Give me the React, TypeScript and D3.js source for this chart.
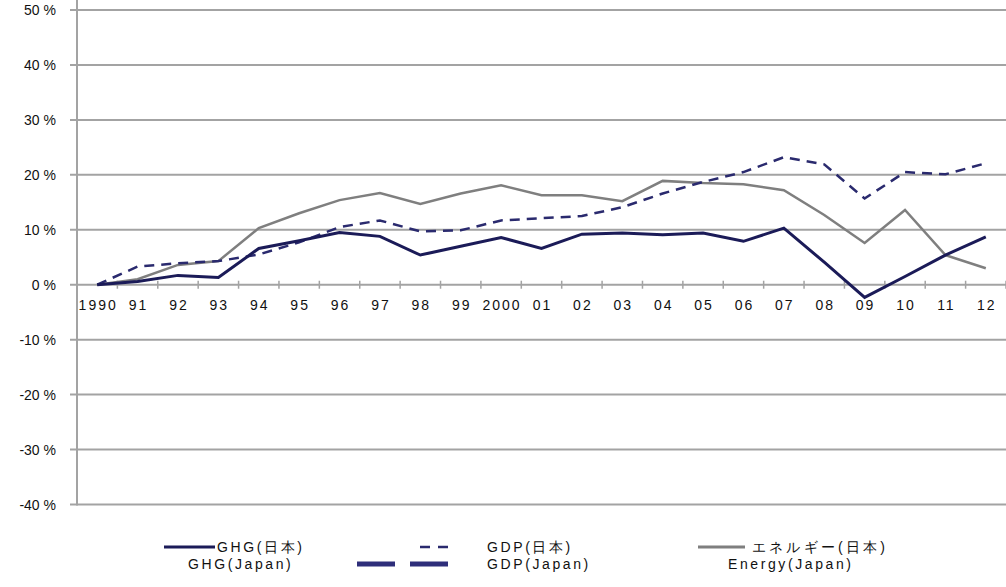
import React from "react";
import * as d3 from "d3";

const years = ["1990","91","92","93","94","95","96","97","98","99","2000","01","02","03","04","05","06","07","08","09","10","11","12"];
const ghg = [0,0.6,1.7,1.3,6.6,8.0,9.5,8.8,5.4,7.0,8.6,6.6,9.2,9.4,9.1,9.4,7.9,10.3,4.1,-2.3,1.5,5.4,8.7];
const gdp = [0,3.3,3.9,4.3,5.5,7.7,10.5,11.7,9.7,9.9,11.7,12.1,12.5,14.1,16.6,18.7,20.5,23.2,21.9,15.7,20.5,20.1,22.1];
const energy = [0,1.0,3.6,4.3,10.3,13.0,15.4,16.7,14.7,16.6,18.1,16.3,16.3,15.2,18.9,18.5,18.3,17.2,12.7,7.6,13.6,5.4,3.0];
const yTicks = [50,40,30,20,10,0,-10,-20,-30,-40];

const W = 1006, H = 587;
const font = "'Liberation Sans', Arial, sans-serif";

export default function App() {
  const x = d3.scaleBand<string>().domain(years).range([77, 1006]);
  const y = d3.scaleLinear().domain([-40, 50]).range([504.5, 10]);
  const cx = (d: string) => (x(d) as number) + x.bandwidth() / 2;
  const line = (vals: number[]) =>
    d3.line<number>().x((_, i) => cx(years[i])).y((v) => y(v))(vals) as string;
  const grid = "#a3a3a3";
  const bounds = years.map((d) => x(d) as number).concat([1006]);
  const txt = { fontFamily: font, fill: "#111" };
  const leg = { ...txt, fontSize: 14, letterSpacing: 2.6 };

  return (
    <svg width={W} height={H} style={{ position: "absolute", left: 0, top: 0, background: "#fff" }}>
      {yTicks.map((t) => (
        <g key={t}>
          <line x1={70} x2={1006} y1={y(t)} y2={y(t)} stroke={grid} strokeWidth={2} />
          <text x={56} y={y(t) + 5.2} textAnchor="end" fontSize={14} {...txt}>
            {t} %
          </text>
        </g>
      ))}
      <line x1={77} x2={77} y1={0} y2={505.5} stroke={grid} strokeWidth={2} />
      {bounds.map((b, i) => (
        <line key={i} x1={b} x2={b} y1={y(0) - 4} y2={y(0) + 4} stroke={grid} strokeWidth={1.5} />
      ))}
      {years.map((d) => (
        <text key={d} x={cx(d) + 1} y={310} textAnchor="middle" fontSize={14} letterSpacing={2} {...txt}>
          {d}
        </text>
      ))}
      <path d={line(energy)} fill="none" stroke="#7f7f7f" strokeWidth={2.5} />
      <path d={line(gdp)} fill="none" stroke="#2a2a6e" strokeWidth={2.5} strokeDasharray="10,7" />
      <path d={line(ghg)} fill="none" stroke="#1b1b58" strokeWidth={3} />

      {/* legend */}
      <line x1={164} x2={215} y1={547} y2={547} stroke="#1b1b58" strokeWidth={3} />
      <text x={217} y={552} {...leg}>GHG(日本)</text>
      <text x={188} y={569} {...leg}>GHG(Japan)</text>

      <line x1={420} x2={450} y1={547} y2={547} stroke="#2a2a6e" strokeWidth={2.5} strokeDasharray="10,8" />
      <text x={487} y={552} {...leg}>GDP(日本)</text>
      <line x1={357} x2={450} y1={564} y2={564} stroke="#2e2e7a" strokeWidth={5} strokeDasharray="38,15" />
      <text x={487} y={569} {...leg}>GDP(Japan)</text>

      <line x1={698} x2={745} y1={547} y2={547} stroke="#7f7f7f" strokeWidth={3} />
      <text x={752} y={552} {...leg} letterSpacing={3.2}>エネルギー(日本)</text>
      <text x={728} y={569} {...leg}>Energy(Japan)</text>
    </svg>
  );
}
